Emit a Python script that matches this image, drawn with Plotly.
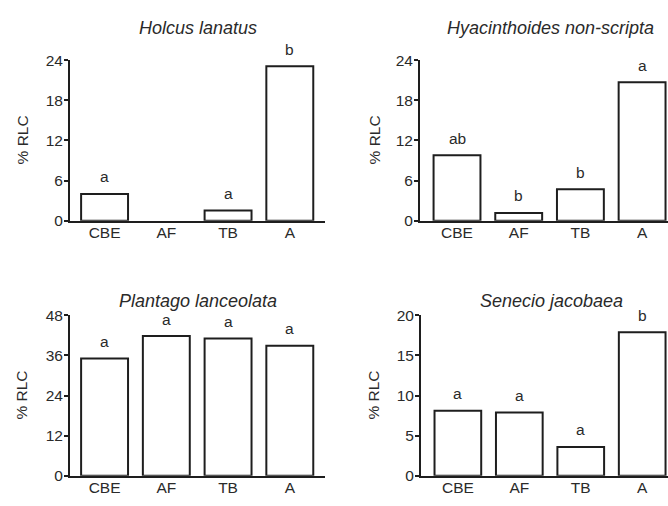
import plotly.graph_objects as go

W, H = 668, 506

categories = ["CBE", "AF", "TB", "A"]
titles = ["Holcus lanatus", "Hyacinthoides non-scripta", "Plantago lanceolata", "Senecio jacobaea"]
holcus = [4.0, 0.0, 1.5, 23.1]
hyacinth = [9.8, 1.15, 4.7, 20.7]
plantago = [35.1, 41.8, 41.1, 38.9]
senecio = [8.1, 7.9, 3.6, 17.9]
holcus_sig = ["a", "", "a", "b"]
hyacinth_sig = ["ab", "b", "b", "a"]
plantago_sig = ["a", "a", "a", "a"]
senecio_sig = ["a", "a", "a", "b"]
y_ranges = [24, 24, 48, 20]
y_ticks = [[0, 6, 12, 18, 24], [0, 6, 12, 18, 24], [0, 12, 24, 36, 48], [0, 5, 10, 15, 20]]

values = [holcus, hyacinth, plantago, senecio]
sigs = [holcus_sig, hyacinth_sig, plantago_sig, senecio_sig]

# pixel layout of each panel: (x_left, x_right, y_top, y_bottom)
panels = [
    (70, 325, 53, 219),
    (420, 668, 53, 219),
    (70, 325, 317, 483),
    (421, 668, 317, 483),
]
x_ranges = [[-0.56, 3.57], [-0.60, 3.42], [-0.56, 3.57], [-0.60, 3.42]]
title_pos = [(198, 20), (550, 20), (198, 302), (551, 302)]
ylab_x = [22, 374, 22, 374]

FONT = "Liberation Sans, Arial, sans-serif"
INK = "#1e1e1e"
TXT = "#2a2a2a"

fig = go.Figure()
annotations = []
for i in range(4):
    n = i + 1
    xa = "x" if n == 1 else f"x{n}"
    ya = "y" if n == 1 else f"y{n}"
    fig.add_trace(go.Bar(
        x=list(range(4)), y=values[i], width=0.76,
        marker=dict(color="white",
                    line=dict(color=INK, width=[2 if v > 0 else 0 for v in values[i]])),
        xaxis=xa, yaxis=ya, showlegend=False, hoverinfo="skip",
    ))
    xl, xr, yt, yb = panels[i]
    xdom = [xl / W, min(xr / W, 1.0)]
    ydom = [1 - yb / H, 1 - yt / H]
    xkey = "xaxis" if n == 1 else f"xaxis{n}"
    ykey = "yaxis" if n == 1 else f"yaxis{n}"
    fig.update_layout(**{
        xkey: dict(domain=xdom, range=x_ranges[i], anchor=ya,
                   tickvals=list(range(4)), ticktext=categories,
                   showline=True, linecolor=INK, linewidth=2,
                   ticks="", showgrid=False, zeroline=False,
                   ticklabelstandoff=-3,
                   tickfont=dict(family=FONT, size=15.5, color=TXT)),
        ykey: dict(domain=ydom, range=[0, y_ranges[i]], anchor=xa,
                   tickvals=y_ticks[i], showline=True, linecolor=INK,
                   linewidth=2, ticks="outside", ticklen=4, tickwidth=2,
                   tickcolor=INK, showgrid=False, zeroline=False,
                   ticklabelstandoff=-2,
                   tickfont=dict(family=FONT, size=15.5, color=TXT)),
    })
    for j in range(4):
        if sigs[i][j]:
            annotations.append(dict(
                x=j, y=values[i][j], xref=xa, yref=ya, text=sigs[i][j],
                showarrow=False, yanchor="middle", yshift=17,
                font=dict(family=FONT, size=15.5, color=TXT)))
    tx, ty = title_pos[i]
    annotations.append(dict(
        x=tx / W, y=1 - ty / H, xref="paper", yref="paper",
        text=f"<i>{titles[i]}</i>", showarrow=False,
        xanchor="center", yanchor="middle",
        font=dict(family=FONT, size=18, color=TXT)))
    annotations.append(dict(
        x=ylab_x[i] / W, y=1 - (yt + yb) / 2 / H, xref="paper", yref="paper",
        text="% RLC", textangle=-90, showarrow=False,
        xanchor="center", yanchor="middle",
        font=dict(family=FONT, size=15.5, color=TXT)))

fig.update_layout(
    width=W, height=H, margin=dict(l=0, r=0, t=0, b=0),
    paper_bgcolor="white", plot_bgcolor="white",
    annotations=annotations,
)
fig.write_html("out.html")
